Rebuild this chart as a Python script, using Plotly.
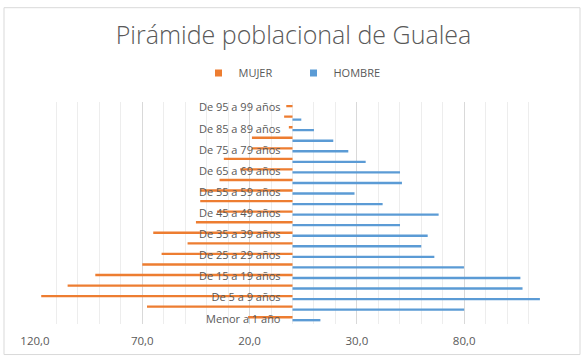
import plotly.graph_objects as go

categories = [
    "Menor a 1 año", "De 1 a 4 años", "De 5 a 9 años", "De 10 a 14 años",
    "De 15 a 19 años", "De 20 a 24 años", "De 25 a 29 años", "De 30 a 34 años",
    "De 35 a 39 años", "De 40 a 44 años", "De 45 a 49 años", "De 50 a 54 años",
    "De 55 a 59 años", "De 60 a 64 años", "De 65 a 69 años", "De 70 a 74 años",
    "De 75 a 79 años", "De 80 a 84 años", "De 85 a 89 años", "De 90 a 94 años",
    "De 95 a 99 años",
]
mujer = [20.7, 67.8, 117.1, 104.8, 91.9, 70.0, 61.0, 48.9, 64.9, 45.0, 35.2,
         43.0, 43.0, 34.0, 24.4, 32.0, 18.9, 18.9, 1.7, 3.9, 2.9]
hombre = [13.0, 80.0, 115.3, 107.2, 106.2, 79.9, 66.1, 60.0, 63.0, 50.1, 68.1,
          42.0, 28.9, 51.0, 50.1, 34.1, 26.0, 19.0, 10.0, 4.1, 0.0]

x_tickvals = [-120, -70, -20, 30, 80]
x_ticktext = ["120,0", "70,0", "20,0", "30,0", "80,0"]
y_labels = categories[::2]

ORANGE = "#ED7D31"
BLUE = "#5B9BD5"
GREY = "#595959"

fig = go.Figure()
fig.add_trace(go.Bar(
    y=categories, x=hombre, orientation="h", name="HOMBRE",
    marker=dict(color=BLUE, line=dict(width=0)), showlegend=False,
))
fig.add_trace(go.Bar(
    y=categories, x=[-v for v in mujer], orientation="h", name="MUJER",
    marker=dict(color=ORANGE, line=dict(width=0)), showlegend=False,
))
# legend entries (compact square keys like the original)
for name, color in [("MUJER", ORANGE), ("HOMBRE", BLUE)]:
    fig.add_trace(go.Scatter(
        x=[None], y=[None], mode="markers", name=name,
        marker=dict(symbol="square", size=7, color=color),
    ))

fig.update_layout(
    width=587, height=360,
    margin=dict(l=35, r=37, t=101, b=34),
    paper_bgcolor="white", plot_bgcolor="white",
    barmode="group", bargap=0.44, bargroupgap=0.2,
    title=dict(
        text="Pirámide poblacional de Gualea",
        font=dict(family="Open Sans", size=25, color=GREY, weight=300),
        x=0.5, xanchor="center", xref="container",
        y=1 - 35 / 360, yanchor="middle", yref="container",
    ),
    legend=dict(
        orientation="h", x=0.5, xanchor="center", xref="container",
        y=1 - 73 / 360, yanchor="middle", yref="container",
        font=dict(family="Open Sans", size=11, color=GREY),
        itemwidth=30, traceorder="normal", entrywidth=50,
    ),
    font=dict(family="Open Sans", color=GREY),
    xaxis=dict(
        range=[-120, 120], tickvals=x_tickvals, ticktext=x_ticktext,
        showgrid=True, gridcolor="#D9D9D9", gridwidth=1,
        minor=dict(dtick=10, tick0=0, showgrid=True, gridcolor="#EDEDED", gridwidth=1),
        zeroline=False, showline=False, ticks="",
        tickfont=dict(family="Open Sans", size=11.5, color=GREY),
        ticklabelstandoff=8,
    ),
    yaxis=dict(
        type="category", categoryorder="array", categoryarray=categories,
        tickvals=y_labels, ticktext=y_labels,
        anchor="free", position=0.5, side="left",
        showgrid=False, zeroline=False, showline=False, ticks="",
        tickfont=dict(family="Open Sans", size=11, color=GREY),
        ticklabelstandoff=12,
        range=[-0.5, 20.5],
    ),
    shapes=[dict(
        type="rect", xref="paper", yref="paper",
        x0=(4 - 35) / 515, x1=(580 - 35) / 515,
        y0=(326 - 357) / 225, y1=(326 - 5) / 225,
        line=dict(color="#D9D9D9", width=1), fillcolor="rgba(0,0,0,0)",
        layer="below",
    )],
)

fig.write_html("out.html")
